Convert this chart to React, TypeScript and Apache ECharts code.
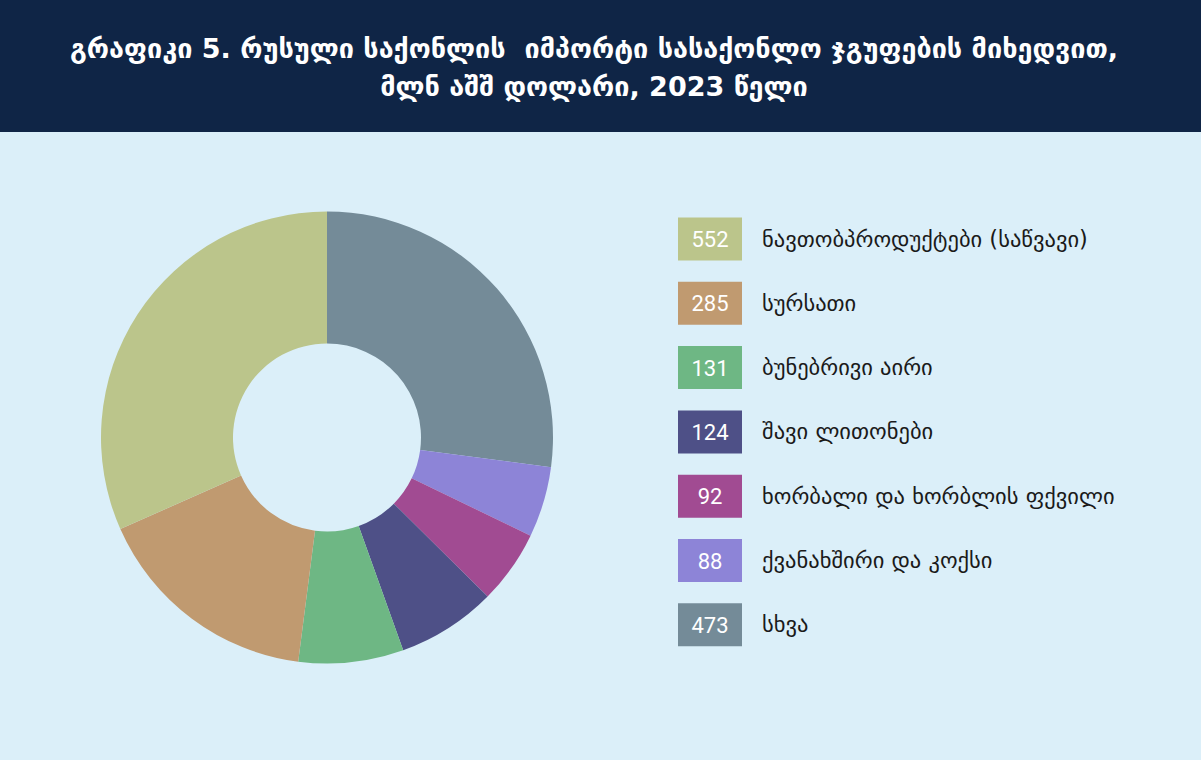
import React, { useEffect, useRef } from "react";
import * as echarts from "echarts";

const titleLines = [
  "გრაფიკი 5. რუსული საქონლის  იმპორტი სასაქონლო ჯგუფების მიხედვით,",
  "მლნ აშშ დოლარი, 2023 წელი",
];
const categories = [
  "ნავთობპროდუქტები (საწვავი)",
  "სურსათი",
  "ბუნებრივი აირი",
  "შავი ლითონები",
  "ხორბალი და ხორბლის ფქვილი",
  "ქვანახშირი და კოქსი",
  "სხვა",
];
const values = [552, 285, 131, 124, 92, 88, 473];
const colors = ["#bbc58b", "#c09a70", "#6eb784", "#4e5087", "#a14b92", "#8d84d7", "#748b98"];

const BG = "#dbeff9";
const HEADER = "#0f2546";
const GEO_FONT = "'DejaVu Sans', 'Noto Sans', sans-serif";

export default function App() {
  const ref = useRef<HTMLDivElement>(null);
  useEffect(() => {
    if (!ref.current) return;
    const chart = echarts.init(ref.current, undefined, { renderer: "svg" });
    // clockwise from 12 o'clock: last category first, then the rest in reverse
    const order = [values.length - 1, ...values.slice(0, -1).map((_, i) => values.length - 2 - i)];
    const data = order.map((i) => ({
      name: categories[i],
      value: values[i],
      itemStyle: { color: colors[i] },
    }));
    const legendTop = 217.5;
    const step = 64.3;
    const legendItems: any[] = [];
    categories.forEach((c, i) => {
      const y = legendTop + i * step;
      legendItems.push({
        type: "rect",
        shape: { x: 678, y, width: 64, height: 43 },
        style: { fill: colors[i] },
      });
      legendItems.push({
        type: "text",
        x: 710,
        y: y + 22,
        style: {
          text: String(values[i]),
          fill: "#ffffff",
          font: "22px Roboto, sans-serif",
          textAlign: "center",
          textVerticalAlign: "middle",
        },
      });
      legendItems.push({
        type: "text",
        x: 762,
        y: y + 21,
        style: {
          text: c,
          fill: "#1a1a1a",
          font: `22.5px ${GEO_FONT}`,
          textAlign: "left",
          textVerticalAlign: "middle",
        },
      });
    });
    chart.setOption({
      animation: false,
      backgroundColor: BG,
      graphic: [
        {
          type: "rect",
          shape: { x: 0, y: 0, width: 1201, height: 132 },
          style: { fill: HEADER },
        },
        ...titleLines.map((t, i) => ({
          type: "text",
          x: 594,
          y: 48 + i * 38,
          style: {
            text: t,
            fill: "#ffffff",
            font: `bold 27px ${GEO_FONT}`,
            textAlign: "center",
            textVerticalAlign: "middle",
          },
        })),
        ...legendItems,
      ],
      series: [
        {
          type: "pie",
          center: [327, 437.5],
          radius: [94, 226],
          startAngle: 90,
          clockwise: true,
          label: { show: false },
          labelLine: { show: false },
          emphasis: { disabled: true },
          data,
        },
      ],
    });
    return () => chart.dispose();
  }, []);
  return (
    <div
      ref={ref}
      style={{ position: "fixed", left: 0, top: 0, width: 1201, height: 760 }}
    />
  );
}
